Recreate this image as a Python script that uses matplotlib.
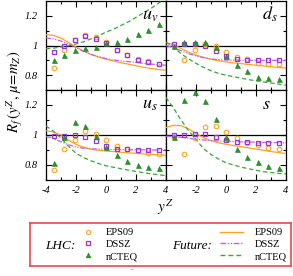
import matplotlib
matplotlib.use('Agg')
import matplotlib.pyplot as plt
from matplotlib.lines import Line2D

plt.rcParams.update({
    'font.family': 'serif',
    'font.serif': ['Liberation Serif', 'DejaVu Serif'],
    'mathtext.fontset': 'stix',
    'axes.unicode_minus': False,
})

W, H = 293, 276

# rapidity points of the LHC pseudo-data
y_pts = [-3.5, -2.8, -2.1, -1.4, -0.7, 0.0, 0.7, 1.4, 2.1, 2.8, 3.5]
# rapidity grid of the "future" curves
y_crv = [-4, -3.5, -3, -2.5, -2, -1.5, -1, -0.5, 0, 0.5, 1, 1.5, 2, 2.5, 3, 3.5, 4]

# u_v
uv_eps_pts = [0.851, 0.967, 1.040, 1.071, 1.058, 1.022, 0.973, 0.933, 0.911, 0.893, 0.878]
uv_dssz_pts = [0.956, 0.996, 1.040, 1.064, 1.045, 1.018, 0.969, 0.933, 0.905, 0.889, 0.876]
uv_ncteq_pts = [0.905, 0.935, 0.967, 0.982, 0.993, 1.018, 1.022, 1.045, 1.076, 1.107, 1.142]
uv_eps_crv = [1.073, 1.068, 1.050, 1.020, 0.990, 0.963, 0.940, 0.922, 0.907, 0.895, 0.884,
              0.874, 0.863, 0.853, 0.845, 0.838, 0.833]
uv_dssz_crv = [1.051, 1.045, 1.030, 1.010, 0.985, 0.960, 0.940, 0.925, 0.912, 0.903, 0.896,
               0.891, 0.886, 0.880, 0.875, 0.870, 0.867]
uv_ncteq_crv = [0.978, 0.982, 0.990, 0.998, 1.010, 1.025, 1.045, 1.065, 1.090, 1.110, 1.135,
                1.160, 1.190, 1.220, 1.250, 1.285, 1.320]

# d_s
ds_eps_pts = [1.000, 0.900, 0.967, 1.010, 0.995, 0.956, 0.925, 0.910, 0.885, 0.875, 0.872]
ds_dssz_pts = [1.011, 1.007, 1.007, 0.995, 0.962, 0.930, 0.911, 0.905, 0.900, 0.900, 0.900]
ds_ncteq_pts = [0.996, 1.022, 1.024, 1.026, 0.990, 0.927, 0.871, 0.829, 0.790, 0.782, 0.775]
ds_eps_crv = [1.020, 1.005, 0.980, 0.955, 0.935, 0.920, 0.907, 0.897, 0.890, 0.883, 0.878,
              0.872, 0.867, 0.862, 0.857, 0.852, 0.848]
ds_dssz_crv = [1.000, 0.985, 0.965, 0.945, 0.930, 0.918, 0.910, 0.905, 0.902, 0.901, 0.900,
               0.900, 0.900, 0.900, 0.900, 0.900, 0.900]
ds_ncteq_crv = [1.022, 0.990, 0.945, 0.910, 0.880, 0.853, 0.830, 0.812, 0.800, 0.790, 0.780,
                0.770, 0.762, 0.754, 0.747, 0.740, 0.733]

# u_s
us_eps_pts = [0.768, 0.906, 0.969, 1.024, 1.009, 0.965, 0.926, 0.906, 0.893, 0.882, 0.875]
us_dssz_pts = [0.991, 0.995, 1.002, 0.987, 0.959, 0.930, 0.908, 0.904, 0.900, 0.900, 0.900]
us_ncteq_pts = [0.813, 0.986, 1.086, 1.061, 0.993, 0.923, 0.869, 0.830, 0.803, 0.788, 0.777]
us_eps_crv = [1.028, 1.020, 1.000, 0.965, 0.937, 0.918, 0.905, 0.898, 0.893, 0.889, 0.885,
              0.881, 0.878, 0.874, 0.871, 0.868, 0.865]
us_dssz_crv = [0.991, 0.975, 0.955, 0.935, 0.920, 0.912, 0.908, 0.906, 0.904, 0.903, 0.902,
               0.902, 0.901, 0.901, 0.900, 0.900, 0.900]
us_ncteq_crv = [1.061, 1.025, 0.980, 0.925, 0.878, 0.850, 0.828, 0.810, 0.795, 0.785, 0.775,
                0.766, 0.757, 0.749, 0.741, 0.735, 0.729]

# s
s_eps_pts = [0.990, 0.872, 0.981, 1.051, 1.057, 1.018, 0.978, 0.950, 0.931, 0.916, 0.910]
s_dssz_pts = [0.998, 0.998, 1.010, 1.005, 0.988, 0.968, 0.955, 0.952, 0.949, 0.948, 0.948]
s_ncteq_pts = [0.988, 1.236, 1.290, 1.230, 1.108, 0.987, 0.906, 0.851, 0.817, 0.795, 0.780]
s_eps_crv = [1.050, 1.065, 1.062, 1.040, 1.010, 0.982, 0.962, 0.948, 0.938, 0.930, 0.922,
             0.914, 0.906, 0.898, 0.890, 0.883, 0.876]
s_dssz_crv = [0.992, 0.990, 0.985, 0.978, 0.972, 0.967, 0.963, 0.960, 0.958, 0.956, 0.954,
              0.953, 0.952, 0.951, 0.950, 0.949, 0.948]
s_ncteq_crv = [1.250, 1.180, 1.100, 1.030, 0.970, 0.910, 0.870, 0.840, 0.815, 0.800, 0.786,
               0.775, 0.765, 0.756, 0.750, 0.744, 0.740]

labels = ['EPS09', 'DSSZ', 'nCTEQ']

C_EPS = '#ffa31a'
C_DSSZ_PT = '#9a33d6'
C_DSSZ_LN = '#c060f0'
C_NCTEQ_PT = '#2a962a'
C_NCTEQ_LN = '#3aa53a'
DASHDOTDOT = (0, (4, 1.2, 1, 1.2, 1, 1.2))

panels = [
    ('$u_v$', (46, 1, 120, 89), uv_eps_pts, uv_dssz_pts, uv_ncteq_pts, uv_eps_crv, uv_dssz_crv, uv_ncteq_crv),
    ('$d_s$', (166, 1, 120, 89), ds_eps_pts, ds_dssz_pts, ds_ncteq_pts, ds_eps_crv, ds_dssz_crv, ds_ncteq_crv),
    ('$u_s$', (46, 90, 120, 90), us_eps_pts, us_dssz_pts, us_ncteq_pts, us_eps_crv, us_dssz_crv, us_ncteq_crv),
    ('$s$', (166, 90, 120, 90), s_eps_pts, s_dssz_pts, s_ncteq_pts, s_eps_crv, s_dssz_crv, s_ncteq_crv),
]


def px_box(x0, y0, w, h):
    return [x0 / W, 1 - (y0 + h) / H, w / W, h / H]


fig = plt.figure(figsize=(W / 100, H / 100), dpi=100)

for i, (name, box, e_p, d_p, n_p, e_c, d_c, n_c) in enumerate(panels):
    ax = fig.add_axes(px_box(*box))
    ax.axhline(1.0, color='k', lw=0.9, zorder=2)
    ax.plot(y_crv, e_c, color=C_EPS, lw=0.9, zorder=3)
    ax.plot(y_crv, d_c, color=C_DSSZ_LN, lw=0.9, ls=DASHDOTDOT, zorder=3)
    ax.plot(y_crv, n_c, color=C_NCTEQ_LN, lw=0.9, ls=(0, (3.5, 2.2)), zorder=3)
    ax.plot(y_pts, e_p, ls='none', marker='o', ms=3.3, mfc='none', mec=C_EPS, mew=0.8, zorder=4)
    ax.plot(y_pts, d_p, ls='none', marker='s', ms=3.0, mfc='none', mec=C_DSSZ_PT, mew=0.9, zorder=5)
    ax.plot(y_pts, n_p, ls='none', marker='^', ms=3.6, mfc=C_NCTEQ_PT, mec='#1f7a1f', mew=0.4, zorder=6)

    ax.set_xlim(-4, 4)
    ax.set_ylim(0.7, 1.3)
    ax.set_xticks([-4, -2, 0, 2, 4])
    ax.set_xticks([-3, -1, 1, 3], minor=True)
    ax.set_yticks([0.8, 1.0, 1.2])
    ax.set_yticks([0.9, 1.1], minor=True)
    ax.tick_params(which='both', direction='in', top=True, right=True, width=0.8,
                   labelsize=7.5)
    ax.tick_params(which='major', length=4)
    ax.tick_params(which='minor', length=2)
    ax.tick_params(axis='y', pad=6)
    ax.tick_params(axis='x', pad=4.5)
    for sp in ax.spines.values():
        sp.set_linewidth(0.9)

    if i % 2 == 0:
        ax.set_yticklabels(['0.8', '1', '1.2'], fontstyle='italic')
    else:
        ax.set_yticklabels([])
    if i < 2:
        ax.set_xticklabels([])
    elif i == 2:
        ax.set_xticklabels(['-4', '-2', '0', '2', '4'], fontstyle='italic')
    else:
        ax.set_xticklabels(['', '-2', '0', '2', '4'], fontstyle='italic')

    ax.text(0.8, 0.79, name, transform=ax.transAxes, fontsize=13,
            ha='left', va='baseline')

fig.text(0.05, 0.667, r'$R_f\,(y^Z,\,\mu\!=\!m_Z)$', rotation=90, fontsize=10.5,
         ha='center', va='center')
fig.text(0.563, 0.25, r'$y^Z$', fontsize=11, ha='center', va='center')

# legend box
lax = fig.add_axes(px_box(30, 223, 261, 43))
lax.set_xticks([])
lax.set_yticks([])
lax.patch.set_alpha(0)
for sp in lax.spines.values():
    sp.set_color('#e8474b')
    sp.set_linewidth(1.2)

lax.text(0.115, 0.47, 'LHC:', transform=lax.transAxes, fontsize=9.5,
         fontstyle='italic', ha='center', va='center')
lax.text(0.62, 0.47, 'Future:', transform=lax.transAxes, fontsize=9.5,
         fontstyle='italic', ha='center', va='center')

pt_handles = [
    Line2D([], [], ls='none', marker='o', ms=3.0, mfc='none', mec=C_EPS, mew=0.8),
    Line2D([], [], ls='none', marker='s', ms=2.8, mfc='none', mec=C_DSSZ_PT, mew=0.9),
    Line2D([], [], ls='none', marker='^', ms=3.4, mfc=C_NCTEQ_PT, mec='#1f7a1f', mew=0.4),
]
ln_handles = [
    Line2D([], [], color=C_EPS, lw=1.0),
    Line2D([], [], color=C_DSSZ_LN, lw=1.0, ls=DASHDOTDOT),
    Line2D([], [], color=C_NCTEQ_LN, lw=1.0, ls=(0, (3.5, 2.2))),
]
leg1 = lax.legend(pt_handles, labels, loc='center left', bbox_to_anchor=(0.202, 0.5),
                  frameon=False, fontsize=7.5, handlelength=1.0, handletextpad=1.2,
                  labelspacing=0.25, borderpad=0, borderaxespad=0)
lax.add_artist(leg1)
lax.legend(ln_handles, labels, loc='center left', bbox_to_anchor=(0.728, 0.5),
           frameon=False, fontsize=7.5, handlelength=2.2, handletextpad=1.15,
           labelspacing=0.25, borderpad=0, borderaxespad=0)

# small stray mark under the legend
fig.text(132 / W, 1 - 270 / H, '-', fontsize=6, color='0.45', ha='center', va='center')

fig.savefig('out.png', dpi=100)
